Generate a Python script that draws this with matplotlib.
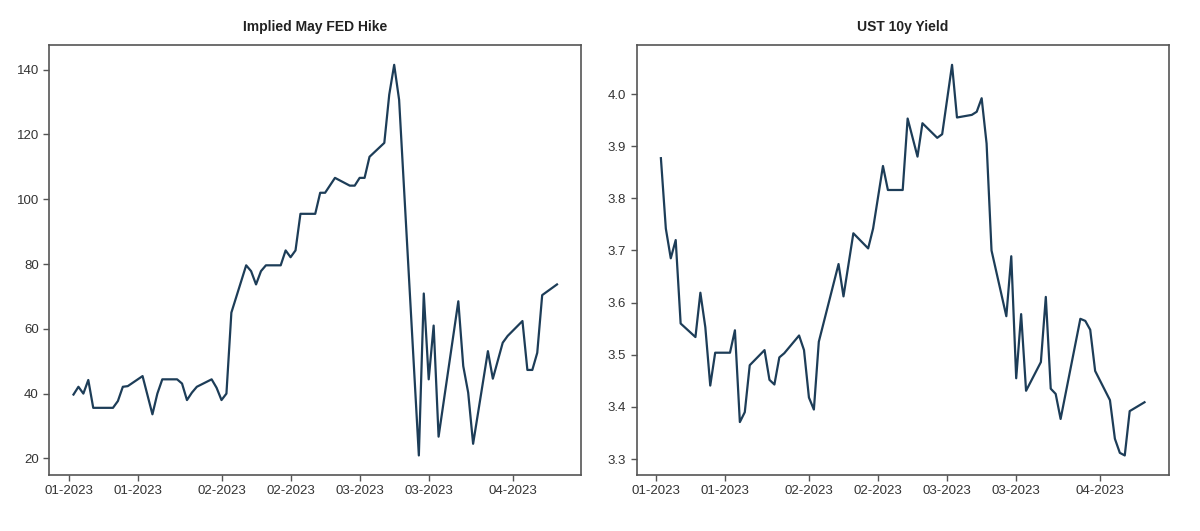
import pandas as pd
import matplotlib
matplotlib.use("Agg")
import matplotlib.pyplot as plt
import matplotlib.dates as mdates

plt.rcParams['font.family'] = ['Liberation Sans', 'DejaVu Sans']

# Implied May FED hike (bp)
fed_dates = ['2023-01-02', '2023-01-03', '2023-01-04', '2023-01-05', '2023-01-06',
             '2023-01-09', '2023-01-10', '2023-01-11', '2023-01-12', '2023-01-13',
             '2023-01-16', '2023-01-18', '2023-01-19', '2023-01-20', '2023-01-23',
             '2023-01-24', '2023-01-25', '2023-01-26', '2023-01-27', '2023-01-30',
             '2023-01-31', '2023-02-01', '2023-02-02', '2023-02-03', '2023-02-06',
             '2023-02-07', '2023-02-08', '2023-02-09', '2023-02-10', '2023-02-13',
             '2023-02-14', '2023-02-15', '2023-02-16', '2023-02-17', '2023-02-20',
             '2023-02-21', '2023-02-22', '2023-02-24', '2023-02-27', '2023-02-28',
             '2023-03-01', '2023-03-02', '2023-03-03', '2023-03-06', '2023-03-07',
             '2023-03-08', '2023-03-09', '2023-03-13', '2023-03-14', '2023-03-15',
             '2023-03-16', '2023-03-17', '2023-03-21', '2023-03-22', '2023-03-23',
             '2023-03-24', '2023-03-27', '2023-03-28', '2023-03-30', '2023-03-31',
             '2023-04-03', '2023-04-04', '2023-04-05', '2023-04-06', '2023-04-07',
             '2023-04-10']
fed_hike = [39.7, 42.1, 40.0, 44.2, 35.6,
            35.6, 35.6, 37.7, 42.1, 42.3,
            45.4, 33.6, 40.0, 44.4, 44.4,
            43.1, 38.0, 40.3, 42.1, 44.4,
            41.8, 38.0, 40.0, 65.0, 79.6,
            77.8, 73.7, 77.8, 79.6, 79.6,
            84.2, 82.1, 84.2, 95.5, 95.5,
            102.0, 102.0, 106.6, 104.2, 104.2,
            106.6, 106.6, 113.1, 117.4, 132.3,
            141.5, 130.7, 20.9, 70.9, 44.4,
            61.0, 26.7, 68.5, 48.5, 40.3,
            24.5, 53.1, 44.6, 55.7, 57.8,
            62.4, 47.3, 47.3, 52.6, 70.4,
            73.7]

# UST 10y yield (%)
ust_dates = ['2023-01-02', '2023-01-03', '2023-01-04', '2023-01-05', '2023-01-06',
             '2023-01-09', '2023-01-10', '2023-01-11', '2023-01-12', '2023-01-13',
             '2023-01-16', '2023-01-17', '2023-01-18', '2023-01-19', '2023-01-20',
             '2023-01-23', '2023-01-24', '2023-01-25', '2023-01-26', '2023-01-27',
             '2023-01-30', '2023-01-31', '2023-02-01', '2023-02-02', '2023-02-03',
             '2023-02-07', '2023-02-08', '2023-02-10', '2023-02-13', '2023-02-14',
             '2023-02-16', '2023-02-17', '2023-02-20', '2023-02-21', '2023-02-23',
             '2023-02-24', '2023-02-27', '2023-02-28', '2023-03-02', '2023-03-03',
             '2023-03-06', '2023-03-07', '2023-03-08', '2023-03-09', '2023-03-10',
             '2023-03-13', '2023-03-14', '2023-03-15', '2023-03-16', '2023-03-17',
             '2023-03-20', '2023-03-21', '2023-03-22', '2023-03-23', '2023-03-24',
             '2023-03-28', '2023-03-29', '2023-03-30', '2023-03-31', '2023-04-03',
             '2023-04-04', '2023-04-05', '2023-04-06', '2023-04-07', '2023-04-10']
ust_10y = [3.877, 3.742, 3.685, 3.720, 3.560,
           3.534, 3.619, 3.553, 3.441, 3.504,
           3.504, 3.547, 3.371, 3.390, 3.480,
           3.509, 3.452, 3.443, 3.495, 3.503,
           3.537, 3.509, 3.418, 3.395, 3.525,
           3.674, 3.612, 3.733, 3.704, 3.742,
           3.862, 3.816, 3.816, 3.953, 3.880,
           3.944, 3.916, 3.923, 4.056, 3.955,
           3.960, 3.966, 3.992, 3.905, 3.700,
           3.574, 3.689, 3.455, 3.578, 3.431,
           3.486, 3.611, 3.435, 3.425, 3.377,
           3.569, 3.565, 3.548, 3.469, 3.413,
           3.339, 3.312, 3.307, 3.392, 3.409]

tick_dates = ['2023-01-01', '2023-01-15', '2023-02-01', '2023-02-15',
              '2023-03-01', '2023-03-15', '2023-04-01']

line_color = '#1d3d58'
spine_color = '#555555'
text_color = '#333333'

fig = plt.figure(figsize=(12, 5.31), dpi=100)
ax1 = fig.add_axes([0.0411, 0.1055, 0.4432, 0.8092])
ax2 = fig.add_axes([0.5306, 0.1055, 0.4433, 0.8092])

panels = [(ax1, fed_dates, fed_hike, 'Implied May FED Hike'),
          (ax2, ust_dates, ust_10y, 'UST 10y Yield')]

for ax, dts, vals, title in panels:
    ax.plot(pd.to_datetime(dts), vals, color=line_color, linewidth=1.6)
    ax.set_title(title, fontsize=10, fontweight='bold', color='#222222', pad=10)
    ax.set_xticks(pd.to_datetime(tick_dates))
    ax.xaxis.set_major_formatter(mdates.DateFormatter('%m-%Y'))
    ax.tick_params(axis='both', labelsize=9.5, colors=spine_color, labelcolor=text_color,
                   length=4, width=1)
    for sp in ax.spines.values():
        sp.set_color(spine_color)
        sp.set_linewidth(1.2)

ax1.set_yticks([20, 40, 60, 80, 100, 120, 140])
ax2.set_yticks([3.3, 3.4, 3.5, 3.6, 3.7, 3.8, 3.9, 4.0])
ax2.yaxis.set_major_formatter(matplotlib.ticker.FormatStrFormatter('%.1f'))

fig.savefig('out.png', dpi=100)
